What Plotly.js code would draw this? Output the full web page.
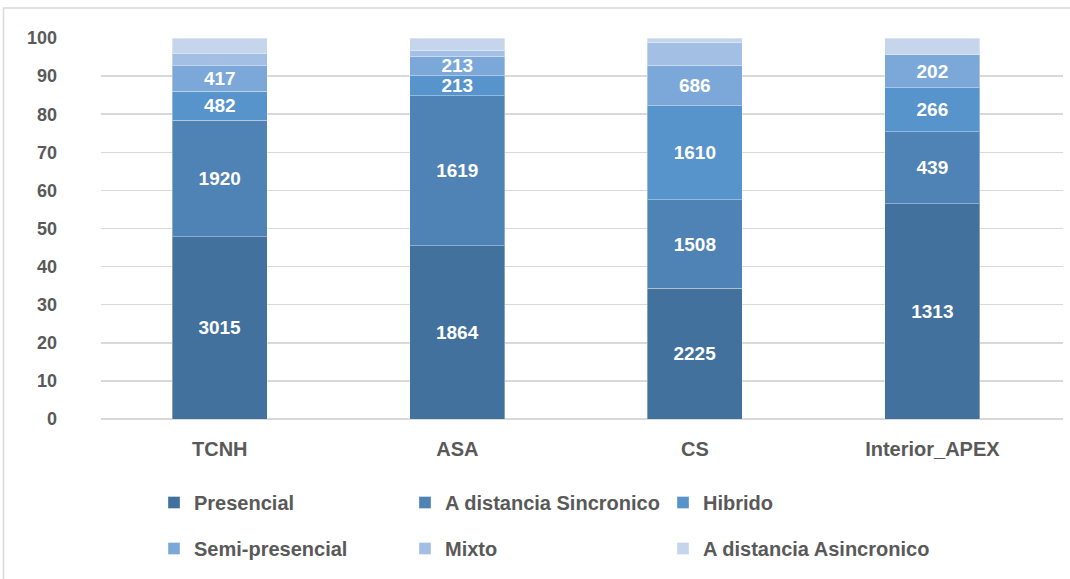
<!DOCTYPE html>
<html>
<head>
<meta charset="utf-8">
<script src="https://cdn.plot.ly/plotly-3.0.1.min.js"></script>
<style>html,body{margin:0;padding:0;background:#fff;}#chart{width:1070px;height:579px;}</style>
</head>
<body>
<div id="chart"></div>
<script>
const categories = ["TCNH", "ASA", "CS", "Interior_APEX"];
const seriesNames = ["Presencial", "A distancia Sincronico", "Hibrido", "Semi-presencial", "Mixto", "A distancia Asincronico"];
const presencial = [3015, 1864, 2225, 1313];
const sincronico = [1920, 1619, 1508, 439];
const hibrido = [482, 213, 1610, 266];
const semipresencial = [417, 213, 686, 202];
const mixto = [214, 65, 385, 0];
const asincronico = [248, 130, 80, 102];
const showLabel = [true, true, true, true, false, false];
const colors = ["#41719C", "#4F82B5", "#5794CB", "#7BA8D8", "#A3BFE4", "#C5D5EC"];
const yTicks = [0, 10, 20, 30, 40, 50, 60, 70, 80, 90, 100];

const allSeries = [presencial, sincronico, hibrido, semipresencial, mixto, asincronico];
const legendOf = ["legend", "legend2", "legend3", "legend", "legend2", "legend3"];
const W = 1070, H = 579;
const mL = 101, mR = 7, mT = 38, mB = 160;
const pw = W - mL - mR, ph = H - mT - mB;

const traces = allSeries.map((vals, i) => ({
  type: "bar",
  name: seriesNames[i],
  x: categories,
  y: vals,
  marker: {color: colors[i], line: {color: "rgba(255,255,255,0.35)", width: 1}},
  text: showLabel[i] ? vals.map(v => String(v)) : vals.map(() => ""),
  textposition: "inside",
  insidetextanchor: "middle",
  textangle: 0,
  constraintext: "none",
  textfont: {family: "Liberation Sans, Arial, sans-serif", size: 19, color: "#ffffff", weight: "bold"},
  hoverinfo: "x+y+name",
  legend: legendOf[i],
  legendgroup: "g" + i
}));

const legendFont = {family: "Liberation Sans, Arial, sans-serif", size: 20, color: "#595959", weight: "bold"};

const px2x = px => (px - mL) / pw;
const py2y = py => (H - mB - py) / ph;

const vLegend = (x, y) => ({
  orientation: "v",
  xref: "container", yref: "container",
  x: x / W, y: 1 - y / H,
  xanchor: "left", yanchor: "top",
  font: legendFont,
  bgcolor: "rgba(0,0,0,0)",
  traceorder: "grouped",
  tracegroupgap: 17,
  itemclick: false
});

const layout = {
  width: W, height: H,
  margin: {l: mL, r: mR, t: mT, b: mB, pad: 0, autoexpand: false},
  paper_bgcolor: "#ffffff",
  plot_bgcolor: "#ffffff",
  barmode: "stack",
  barnorm: "percent",
  bargap: 0.6,
  uniformtext: {mode: "show", minsize: 19},
  showlegend: true,
  xaxis: {
    type: "category",
    range: [-0.5, 3.55],
    showgrid: false, zeroline: false, showline: false,
    ticks: "",
    tickfont: {family: "Liberation Sans, Arial, sans-serif", size: 20, color: "#595959", weight: "bold"},
    ticklabelstandoff: 16,
    automargin: false
  },
  yaxis: {
    range: [0, 100],
    tickvals: yTicks,
    ticktext: yTicks.map(String),
    showgrid: true, gridcolor: "#d9d9d9", gridwidth: 1.5,
    zeroline: true, zerolinecolor: "#d9d9d9", zerolinewidth: 1.5,
    showline: false, ticks: "",
    tickfont: {family: "Liberation Sans, Arial, sans-serif", size: 18, color: "#595959", weight: "bold"},
    ticklabelstandoff: 43,
    automargin: false
  },
  legend: vLegend(154, 483),
  legend2: vLegend(405, 483),
  legend3: vLegend(663, 483),
  shapes: [{
    type: "rect", xref: "paper", yref: "paper",
    x0: px2x(3.5), x1: px2x(1080), y0: py2y(590), y1: py2y(8),
    line: {color: "#d9d9d9", width: 1.5}, fillcolor: "rgba(0,0,0,0)", layer: "below"
  }]
};

Plotly.newPlot("chart", traces, layout, {staticPlot: true, displayModeBar: false});
</script>
</body>
</html>
